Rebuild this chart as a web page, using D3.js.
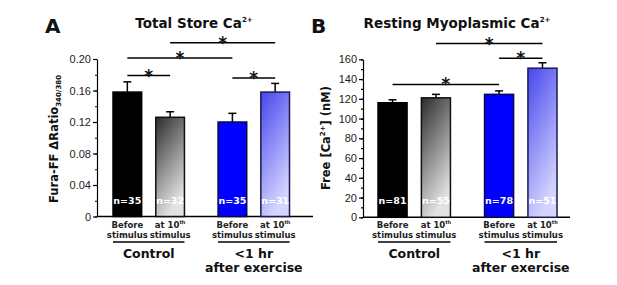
<!DOCTYPE html>
<html>
<head>
<meta charset="utf-8">
<script src="https://cdn.jsdelivr.net/npm/d3@7/dist/d3.min.js"></script>
<style>
  html, body { margin: 0; padding: 0; background: #fff; }
  svg { display: block; font-family: "DejaVu Sans", Verdana, sans-serif; }
  .tick text { font-size: 11px; fill: #222; }
  .axis path, .axis line { stroke: #000; stroke-width: 1.2; }
</style>
</head>
<body>
<div id="chart"></div>
<script>
// ---- data ----
const groups = ["Control", "<1 hr after exercise"];
const conditions = ["Before stimulus", "at 10th stimulus"];

const storeMean = [0.158, 0.126, 0.120, 0.158];
const storeErr = [0.013, 0.007, 0.011, 0.011];
const storeN = [35, 32, 35, 31];
const storeTicks = [0, 0.04, 0.08, 0.12, 0.16, 0.20];
const storeTickLabels = ["0", "0.04", "0.08", "0.12", "0.16", "0.20"];
// significance pairs: [bar a, bar b, height in data units]
const storeSig = [[0, 1, 0.179], [0, 2, 0.2012], [1, 3, 0.2205], [2, 3, 0.176]];

const restMean = [116, 121, 124.5, 151];
const restErr = [3, 3.5, 3.5, 5.5];
const restN = [81, 55, 78, 51];
const restTicks = [0, 20, 40, 60, 80, 100, 120, 140, 160];
const restSig = [[0, 2, 134.5], [2, 3, 161], [1, 3, 176]];

const width = 617, height = 285;
const svg = d3.select("#chart").append("svg")
  .attr("width", width).attr("height", height);

const defs = svg.append("defs");
function grad(id, c0, c1) {
  const g = defs.append("linearGradient").attr("id", id)
    .attr("x1", "0%").attr("y1", "0%").attr("x2", "40%").attr("y2", "100%");
  g.append("stop").attr("offset", "0%").attr("stop-color", c0);
  g.append("stop").attr("offset", "100%").attr("stop-color", c1);
}
grad("grayGrad", "#2c2c2c", "#e2e2e2");
grad("blueGrad", "#4646ee", "#d4d4ff");

const fills = ["#000000", "url(#grayGrad)", "#0000ff", "url(#blueGrad)"];
const strokes = ["#000000", "#111111", "#0a0a4a", "#1a1a50"];

function panel(opt) {
  const y = d3.scaleLinear().domain(opt.domain).range([opt.y0, opt.y1]);
  const outer = d3.scaleBand().domain(groups).range(opt.barRange)
    .paddingInner(0.32).paddingOuter(0);
  const inner = d3.scaleBand().domain(conditions).range([0, outer.bandwidth()])
    .paddingInner(0.33).paddingOuter(0);

  const bars = opt.mean.map((m, i) => ({
    group: groups[Math.floor(i / 2)],
    cond: conditions[i % 2],
    mean: m, err: opt.err[i], n: opt.n[i], i: i
  }));
  const bx = d => outer(d.group) + inner(d.cond);
  const cx = i => bx(bars[i]) + inner.bandwidth() / 2;

  const g = svg.append("g");

  // y axis with minor ticks
  const minor = d3.range(opt.domain[0], opt.domain[1] + 1e-9, opt.minorStep);
  g.append("g").attr("class", "axis")
    .attr("transform", `translate(${opt.axisX},0)`)
    .call(d3.axisLeft(y).tickValues(minor).tickSize(2).tickFormat(""))
    .call(a => a.select(".domain").remove());
  g.append("g").attr("class", "axis")
    .attr("transform", `translate(${opt.axisX},0)`)
    .call(d3.axisLeft(y).tickValues(opt.ticks).tickSize(4).tickSizeOuter(0)
      .tickPadding(2).tickFormat((d, i) => opt.tickLabels[i]));

  // x baseline
  g.append("line")
    .attr("x1", opt.axisX).attr("x2", opt.axisRight)
    .attr("y1", y(0)).attr("y2", y(0))
    .attr("stroke", "#000").attr("stroke-width", 1.5);

  // error bars (upper only)
  const eb = g.selectAll(".err").data(bars).enter().append("g");
  eb.append("line")
    .attr("x1", d => cx(d.i)).attr("x2", d => cx(d.i))
    .attr("y1", d => y(d.mean)).attr("y2", d => y(d.mean + d.err))
    .attr("stroke", "#000").attr("stroke-width", 1.5);
  eb.append("line")
    .attr("x1", d => cx(d.i) - 4).attr("x2", d => cx(d.i) + 4)
    .attr("y1", d => y(d.mean + d.err)).attr("y2", d => y(d.mean + d.err))
    .attr("stroke", "#000").attr("stroke-width", 1.5);

  // bars
  g.selectAll(".bar").data(bars).enter().append("rect")
    .attr("x", d => bx(d)).attr("width", inner.bandwidth())
    .attr("y", d => y(d.mean)).attr("height", d => y(0) - y(d.mean))
    .attr("fill", d => fills[d.i]).attr("stroke", d => strokes[d.i])
    .attr("stroke-width", 1.5);

  // n labels
  g.selectAll(".nlab").data(bars).enter().append("text")
    .attr("x", d => cx(d.i)).attr("y", y(0) - 13)
    .attr("text-anchor", "middle").attr("font-size", 9.5).attr("font-weight", "bold")
    .attr("fill", "#fff").text(d => "n=" + d.n);

  // category labels
  bars.forEach(d => {
    const t = g.append("text").attr("text-anchor", "middle")
      .attr("font-size", 8.5).attr("font-weight", "bold").attr("fill", "#222");
    if (d.cond === conditions[0]) {
      t.append("tspan").attr("x", cx(d.i)).attr("y", 228).text("Before");
    } else {
      const s = t.append("tspan").attr("x", cx(d.i)).attr("y", 228);
      s.append("tspan").text("at 10");
      s.append("tspan").attr("font-size", 5).attr("dy", -4).text("th");
    }
    t.append("tspan").attr("x", cx(d.i)).attr("y", 237.5).text("stimulus");
  });

  // group underline + labels
  groups.forEach((grp, k) => {
    const x0 = outer(grp), x1 = x0 + outer.bandwidth();
    g.append("line").attr("x1", x0).attr("x2", x1)
      .attr("y1", 242).attr("y2", 242)
      .attr("stroke", "#000").attr("stroke-width", 1.5);
    const t = g.append("text").attr("text-anchor", "middle")
      .attr("font-size", 12.5).attr("font-weight", "bold").attr("fill", "#111");
    const xm = (x0 + x1) / 2;
    if (k === 0) {
      t.append("tspan").attr("x", xm).attr("y", 258).text("Control");
    } else {
      t.append("tspan").attr("x", xm).attr("y", 258).text("<1 hr");
      t.append("tspan").attr("x", xm).attr("y", 272).text("after exercise");
    }
  });

  // significance lines
  opt.sig.forEach(([a, b, v]) => {
    g.append("line").attr("x1", cx(a)).attr("x2", cx(b))
      .attr("y1", y(v)).attr("y2", y(v))
      .attr("stroke", "#000").attr("stroke-width", 1.5);
    g.append("text").attr("x", (cx(a) + cx(b)) / 2).attr("y", y(v) + 6)
      .attr("text-anchor", "middle").attr("font-size", 17).attr("font-weight", "bold")
      .attr("fill", "#111").text("*");
  });

  // title
  const tt = g.append("text").attr("x", opt.titleX).attr("y", 28)
    .attr("text-anchor", "middle").attr("font-size", 13.5).attr("font-weight", "bold")
    .attr("fill", "#111");
  tt.append("tspan").text(opt.title);
  tt.append("tspan").attr("font-size", 7).attr("dy", -6).text("2+");

  // panel letter
  g.append("text").attr("x", opt.letterX).attr("y", 33)
    .attr("font-size", 20).attr("font-weight", "bold").attr("fill", "#111")
    .text(opt.letter);

  // y label
  const yl = g.append("text")
    .attr("transform", `translate(${opt.ylabX},${opt.ylabY}) rotate(-90)`)
    .attr("text-anchor", "middle").attr("font-size", 11.5).attr("font-weight", "bold")
    .attr("fill", "#111");
  opt.ylabel(yl);
}

panel({
  domain: [0, 0.2], y0: 216.5, y1: 59, axisX: 97, axisRight: 313,
  barRange: [113, 289.5], minorStep: 0.02,
  mean: storeMean, err: storeErr, n: storeN,
  ticks: storeTicks, tickLabels: storeTickLabels, sig: storeSig,
  title: "Total Store Ca", titleX: 194, letter: "A", letterX: 45,
  ylabX: 58, ylabY: 139,
  ylabel: t => {
    t.append("tspan").text("Fura-FF \u0394Ratio");
    t.append("tspan").attr("font-size", 7).attr("dy", 3).text("340/380");
  }
});

panel({
  domain: [0, 160], y0: 217.3, y1: 59.3, axisX: 363, axisRight: 570,
  barRange: [378, 557], minorStep: 10,
  mean: restMean, err: restErr, n: restN,
  ticks: restTicks, tickLabels: restTicks.map(String), sig: restSig,
  title: "Resting Myoplasmic Ca", titleX: 457, letter: "B", letterX: 311,
  ylabX: 330, ylabY: 138,
  ylabel: t => {
    t.append("tspan").text("Free [Ca");
    t.append("tspan").attr("font-size", 7).attr("dy", -5).text("2+");
    t.append("tspan").attr("dy", 5).text("] (nM)");
  }
});
</script>
</body>
</html>
